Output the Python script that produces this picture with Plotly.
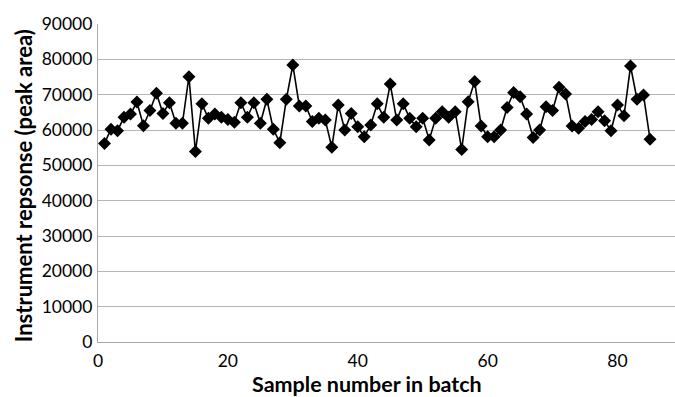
import plotly.graph_objects as go

sample = list(range(1, 86))
response = [
    56200, 60200, 59800, 63600, 64500, 67900, 61200, 65500, 70400, 64700,
    67700, 61900, 61900, 75100, 53900, 67400, 63300, 64500, 63600, 63000,
    62200, 67700, 63600, 67700, 61900, 68700, 60200, 56400, 68700, 78400,
    66800, 66800, 62400, 63300, 62800, 55100, 67100, 60000, 64700, 60900,
    58100, 61400, 67400, 63600, 73000, 62800, 67400, 63300, 60900, 63300,
    57200, 63300, 65200, 63600, 65200, 54500, 68000, 73700, 61100, 58100,
    58100, 60000, 66400, 70600, 69400, 64500, 57900, 60000, 66600, 65500,
    72100, 70200, 61100, 60500, 62400, 63000, 65200, 62600, 59800, 67100,
    64000, 78100, 68700, 69900, 57400,
]
x_ticks = [0, 20, 40, 60, 80]
y_ticks = [0, 10000, 20000, 30000, 40000, 50000, 60000, 70000, 80000, 90000]

fig = go.Figure()
fig.add_trace(go.Scatter(
    x=sample, y=response, mode="lines+markers",
    line=dict(color="black", width=1.6),
    marker=dict(symbol="diamond", size=10, color="black"),
    cliponaxis=False,
))

font_family = "Lato, Open Sans, sans-serif"
fig.update_layout(
    width=675, height=397,
    margin=dict(l=98, r=0, t=24, b=55),
    paper_bgcolor="white", plot_bgcolor="white",
    showlegend=False,
    font=dict(family=font_family, size=17, color="black"),
    xaxis=dict(
        range=[0, 88.85], tickvals=x_ticks, showgrid=False, zeroline=False,
        showline=True, linecolor="#a8a8a8", linewidth=1.2, ticks="",
        ticklabelstandoff=3, tickfont=dict(size=17.5),
    ),
    yaxis=dict(
        range=[0, 90000], tickvals=y_ticks, ticktext=[str(v) for v in y_ticks],
        showgrid=True, gridcolor="#b5b5b5", gridwidth=1.2, zeroline=False,
        showline=True, linecolor="#a8a8a8", linewidth=1.2, ticks="",
        ticklabelstandoff=1, tickfont=dict(size=17.5),
    ),
    annotations=[
        dict(text="<b>Instrument repsonse (peak area)</b>", xref="paper", yref="paper",
             x=0, y=0.49, xshift=-75, textangle=-90, showarrow=False,
             xanchor="center", yanchor="middle", font=dict(size=22, family=font_family)),
        dict(text="<b>Sample number in batch</b>", xref="paper", yref="paper",
             x=0.466, y=0, yshift=-42, showarrow=False,
             xanchor="center", yanchor="middle", font=dict(size=21.5, family=font_family)),
    ],
)

fig.write_html(
    "out.html",
    config={"displayModeBar": False},
    post_script="document.body.style.margin='0';document.body.style.overflow='hidden';",
)
